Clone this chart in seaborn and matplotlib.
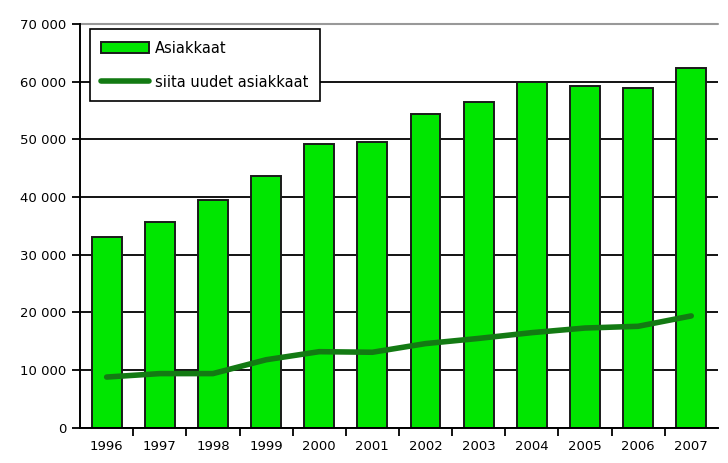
import numpy as np
import pandas as pd
import matplotlib
matplotlib.use("Agg")
import matplotlib.pyplot as plt
import seaborn as sns
from matplotlib.ticker import FuncFormatter, FixedLocator

# values
years = ['1996', '1997', '1998', '1999', '2000', '2001',
         '2002', '2003', '2004', '2005', '2006', '2007']
asiakkaat = [33100, 35700, 39500, 43700, 49200, 49600,
             54400, 56500, 59900, 59300, 58900, 62400]
uudet = [8800, 9400, 9400, 11800, 13200, 13100,
         14600, 15500, 16500, 17300, 17600, 19400]

df = pd.DataFrame({'vuosi': years, 'asiakkaat': asiakkaat, 'uudet': uudet})

sns.set_style("white")
plt.rcParams['font.family'] = ['DejaVu Sans']
plt.rcParams['text.color'] = 'black'
plt.rcParams['xtick.color'] = 'black'
plt.rcParams['ytick.color'] = 'black'

fig = plt.figure(figsize=(7.28, 4.63), dpi=100)
ax = fig.add_axes([0.110, 0.076, 0.876, 0.872])

# gridlines behind bars
ax.set_axisbelow(True)
ax.yaxis.grid(True, color='black', linewidth=1.3)

sns.barplot(data=df, x='vuosi', y='asiakkaat', color='#00e600', saturation=1,
            width=0.56, edgecolor='#1a1a1a', linewidth=1.4, ax=ax,
            label='Asiakkaat')
sns.lineplot(x=np.arange(len(years)), y=df['uudet'], color='#137a13',
             linewidth=4, ax=ax, label='siita uudet asiakkaat')

ax.set_ylim(0, 70000)
ax.set_xlim(-0.5, len(years) - 0.5)
ax.set_yticks(np.arange(0, 70001, 10000))
ax.yaxis.set_major_formatter(FuncFormatter(lambda v, p: f'{int(v):,}'.replace(',', ' ')))
ax.set_xlabel('')
ax.set_ylabel('')

# tick marks between categories, labels centered
ax.xaxis.set_minor_locator(FixedLocator(np.arange(0.5, len(years) - 1, 1.0)))
ax.tick_params(axis='x', which='major', bottom=False, length=0, pad=9, labelsize=9.5,
               labelcolor='black')
ax.tick_params(axis='x', which='minor', bottom=True, length=6, width=1.3,
               color='black', direction='out')
ax.tick_params(axis='y', which='major', left=True, length=6, width=1.3, color='black',
               direction='out', labelsize=9.5, pad=4, labelcolor='black')

for side in ['top', 'right']:
    ax.spines[side].set_visible(False)
ax.spines['left'].set_color('black')
ax.spines['left'].set_linewidth(1.4)
ax.spines['bottom'].set_color('black')
ax.spines['bottom'].set_linewidth(1.4)
ax.axhline(70000, color='#999999', linewidth=1.5, clip_on=False)

handles, labels = ax.get_legend_handles_labels()
order = [labels.index('Asiakkaat'), labels.index('siita uudet asiakkaat')]
leg = ax.legend([handles[i] for i in order], [labels[i] for i in order],
                loc='upper left', bbox_to_anchor=(0.015, 0.988), fontsize=10.5,
                frameon=True, fancybox=False, edgecolor='black', framealpha=1,
                handlelength=3.3, borderpad=0.8, labelspacing=1.3,
                handletextpad=0.4, borderaxespad=0)
leg.get_frame().set_linewidth(1.2)
for t in leg.get_texts():
    t.set_color('black')

fig.savefig('out.png', dpi=100, facecolor='white')
